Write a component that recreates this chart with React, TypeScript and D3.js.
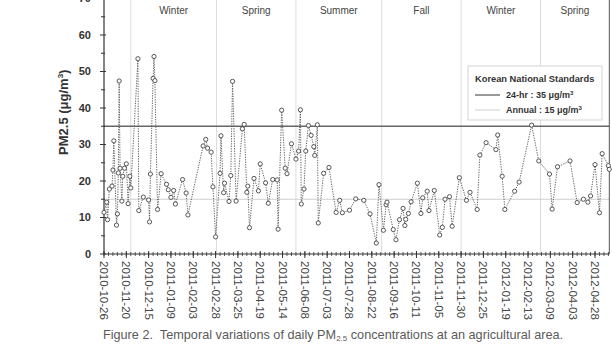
import React from 'react';
import * as d3 from 'd3';

const W = 612;
const H = 349;

// Sampling days counted from the first sample (2010-10-26) and daily PM2.5 (µg/m³)
const firstSample = '2010-10-26';
const sampleDay = [0, 3, 4, 6, 9, 10, 11, 14, 15, 16, 17, 18, 20, 21, 23, 25, 27, 29, 30, 38, 39, 44, 50, 51, 52, 55, 56, 57, 60, 64, 70, 72, 75, 78, 80, 88, 92, 94, 111, 114, 116, 120, 122, 125, 130, 131, 134, 135, 140, 142, 144, 148, 155, 157, 160, 161, 163, 168, 173, 175, 181, 184, 189, 194, 195, 199, 203, 205, 210, 215, 218, 220, 221, 224, 226, 229, 232, 235, 236, 239, 240, 246, 252, 260, 264, 267, 275, 282, 291, 298, 305, 308, 313, 316, 317, 324, 327, 331, 335, 337, 338, 341, 344, 351, 355, 357, 362, 364, 370, 376, 379, 382, 387, 390, 398, 406, 410, 418, 421, 428, 439, 441, 446, 449, 460, 465, 479, 487, 499, 502, 508, 522, 530, 537, 542, 545, 550, 555, 558, 565, 566];
const pm25 = [11.4, 14.2, 9.4, 17.8, 18.6, 23.0, 31.0, 7.9, 11.0, 22.2, 47.4, 23.5, 14.5, 21.3, 23.5, 24.7, 13.8, 21.3, 18.1, 53.5, 11.9, 15.6, 14.8, 8.8, 21.9, 48.1, 54.1, 47.5, 12.2, 22.0, 19.1, 17.6, 15.5, 17.4, 13.7, 20.4, 16.7, 10.7, 29.6, 31.4, 29.0, 27.9, 18.4, 4.7, 22.1, 32.4, 16.8, 19.4, 14.4, 21.5, 47.3, 14.5, 34.3, 35.5, 16.9, 18.6, 7.2, 20.7, 17.3, 24.7, 19.5, 13.9, 20.4, 20.3, 6.8, 39.4, 23.5, 22.0, 30.2, 26.0, 28.2, 39.5, 13.7, 17.8, 28.2, 35.2, 32.5, 29.4, 27.0, 35.4, 8.5, 22.1, 23.7, 11.4, 14.7, 11.3, 12.0, 15.1, 14.7, 11.0, 3.0, 19.0, 6.5, 13.5, 14.2, 6.7, 3.9, 9.4, 12.5, 7.8, 9.5, 11.1, 14.3, 19.4, 11.1, 15.4, 17.2, 11.9, 17.4, 5.2, 7.3, 15.0, 15.7, 7.6, 20.9, 14.7, 16.9, 12.2, 27.1, 30.5, 28.6, 32.6, 21.3, 12.2, 17.2, 19.7, 35.3, 25.5, 21.9, 12.3, 23.9, 25.5, 14.1, 15.0, 14.2, 15.9, 24.5, 11.3, 27.5, 24.2, 23.2];

const tickLabels = ['2010-10-26', '2010-11-20', '2010-12-15', '2011-01-09', '2011-02-03', '2011-02-28', '2011-03-25', '2011-04-19', '2011-05-14', '2011-06-08', '2011-07-03', '2011-07-28', '2011-08-22', '2011-09-16', '2011-10-11', '2011-11-05', '2011-11-30', '2011-12-25', '2012-01-19', '2012-02-13', '2012-03-09', '2012-04-03', '2012-04-28'];

const seasonNames = ['Winter', 'Spring', 'Summer', 'Fall', 'Winter', 'Spring'];
const seasonStarts = ['2010-11-25', '2011-03-01', '2011-05-29', '2011-09-02', '2011-11-30', '2012-02-27'];

const standard24h = 35;
const standardAnnual = 15;

const parse = d3.timeParse('%Y-%m-%d');
const start = parse(firstSample) as Date;
const end = d3.timeDay.offset(start, 566);

const left = 104;
const right = 609.3;
const bottom = 254;
const top = -1.5;

const x = d3.scaleTime().domain([start, end]).range([left, right]);
const y = d3.scaleLinear().domain([0, 70]).range([bottom, top]);

const points = sampleDay.map((d, i) => ({ date: d3.timeDay.offset(start, d), v: pm25[i] }));

const line = d3
  .line<{ date: Date; v: number }>()
  .x((d) => x(d.date))
  .y((d) => y(d.v));

const FONT = '"Liberation Sans", Arial, sans-serif';

export default function App() {
  const majorY = d3.range(0, 71, 10);
  const minorY = d3.range(5, 70, 10);
  const minorX = d3.range(0, 566, 5).map((d) => d3.timeDay.offset(start, d));
  const breaks = seasonStarts.map((s) => parse(s) as Date);
  const seasonEdges = [...breaks, end];

  return (
    <svg
      width={W}
      height={H}
      style={{ position: 'absolute', left: 0, top: 0, background: '#fff' }}
      fontFamily={FONT}
    >
      <rect width={W} height={H} fill="#fff" />

      {/* season dividers */}
      {breaks.map((b, i) => (
        <line key={'s' + i} x1={x(b)} x2={x(b)} y1={top} y2={bottom} stroke="#dcdcdc" strokeWidth={1} />
      ))}
      {seasonNames.map((n, i) => (
        <text
          key={'sn' + i}
          x={(x(seasonEdges[i]) + x(seasonEdges[i + 1])) / 2}
          y={13.5}
          textAnchor="middle"
          fontSize={10}
          fill="#444"
        >
          {n}
        </text>
      ))}

      {/* standards */}
      <line x1={left} x2={right} y1={y(standardAnnual)} y2={y(standardAnnual)} stroke="#cfcfcf" strokeWidth={1} />
      <line x1={left} x2={right} y1={y(standard24h)} y2={y(standard24h)} stroke="#666" strokeWidth={1.4} />

      {/* frame */}
      <line x1={right} x2={right} y1={top} y2={bottom} stroke="#555" strokeWidth={1} />
      <line x1={left} x2={left} y1={top} y2={bottom} stroke="#333" strokeWidth={1.2} />
      <line x1={left} x2={right} y1={bottom} y2={bottom} stroke="#333" strokeWidth={1.2} />

      {/* y ticks */}
      {minorY.map((v) => (
        <line key={'my' + v} x1={left - 3} x2={left + 1} y1={y(v)} y2={y(v)} stroke="#333" strokeWidth={1} />
      ))}
      {majorY.map((v) => (
        <g key={'y' + v}>
          <line x1={left - 4} x2={left + 2} y1={y(v)} y2={y(v)} stroke="#333" strokeWidth={1} />
          <text x={91} y={y(v)} dy="0.36em" textAnchor="end" fontSize={11} fontWeight="bold" fill="#333">
            {v}
          </text>
        </g>
      ))}
      <text
        transform={`translate(68,${(y(0) + y(70)) / 2 - 14}) rotate(-90)`}
        textAnchor="middle"
        fontSize={13}
        fontWeight="bold"
        fill="#333"
      >
        PM2.5 (μg/m<tspan dy={-5} fontSize={8}>3</tspan>
        <tspan dy={5}>)</tspan>
      </text>

      {/* x ticks */}
      {minorX.map((d, i) => (
        <line key={'mx' + i} x1={x(d)} x2={x(d)} y1={bottom - 2} y2={bottom + 2} stroke="#333" strokeWidth={0.8} />
      ))}
      {tickLabels.map((t) => {
        const d = parse(t) as Date;
        const px = x(d);
        return (
          <g key={t}>
            <line x1={px} x2={px} y1={bottom - 3} y2={bottom + 4} stroke="#333" strokeWidth={1} />
            <text
              transform={`translate(${px},${bottom + 7}) rotate(90)`}
              dy="0.35em"
              fontSize={11.5}
              fill="#444"
            >
              {t}
            </text>
          </g>
        );
      })}

      {/* series */}
      <path d={line(points) ?? ''} fill="none" stroke="#555" strokeWidth={0.9} strokeDasharray="1.3 1.2" />
      {points.map((p, i) => (
        <circle key={'p' + i} cx={x(p.date)} cy={y(p.v)} r={2.1} fill="#fff" stroke="#444" strokeWidth={0.9} />
      ))}

      {/* legend */}
      <g>
        <rect x={468} y={66} width={134} height={54} fill="#fff" stroke="#d4d4d4" strokeWidth={1} />
        <text x={475} y={82} fontSize={9.3} fontWeight="bold" fill="#333">
          Korean National Standards
        </text>
        <line x1={475} x2={500} y1={95} y2={95} stroke="#555" strokeWidth={1.2} />
        <text x={506} y={98.3} fontSize={9} fontWeight="bold" fill="#333">
          24-hr : 35 μg/m<tspan dy={-3.5} fontSize={6}>3</tspan>
        </text>
        <line x1={475} x2={500} y1={110} y2={110} stroke="#cfcfcf" strokeWidth={1} />
        <text x={506} y={113.3} fontSize={9} fontWeight="bold" fill="#333">
          Annual : 15 μg/m<tspan dy={-3.5} fontSize={6}>3</tspan>
        </text>
      </g>

      {/* caption */}
      <text x={333} y={339} textAnchor="middle" fontSize={12.7} fill="#5a5a5a">
        {'Figure 2.\u00a0 Temporal variations of daily PM'}
        <tspan dy={2} fontSize={8}>2.5</tspan>
        <tspan dy={-2}>{' concentrations at an agricultural area.'}</tspan>
      </text>
    </svg>
  );
}
